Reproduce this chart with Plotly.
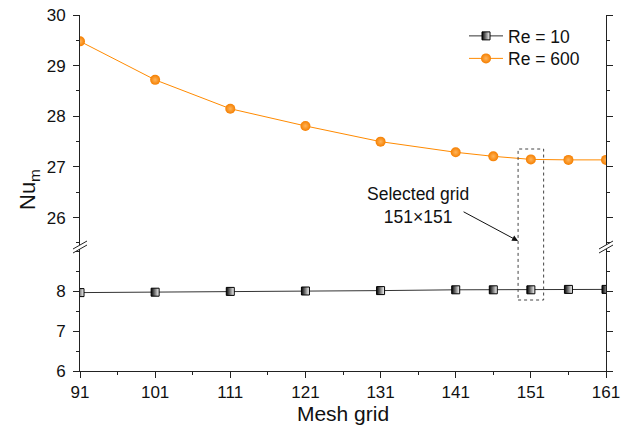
import plotly.graph_objects as go

mesh = [91, 101, 111, 121, 131, 141, 146, 151, 156, 161]
nu_re10 = [7.96, 7.97, 7.99, 8.00, 8.01, 8.03, 8.03, 8.03, 8.04, 8.04]
nu_re600 = [29.48, 28.72, 28.15, 27.81, 27.50, 27.29, 27.21, 27.15, 27.14, 27.14]
x_ticks = [91, 101, 111, 121, 131, 141, 151, 161]
y_low_ticks = [6, 7, 8]
y_up_ticks = [26, 27, 28, 29, 30]

W, H = 627, 428
L, R, T, B = 80, 21, 15, 57
PW, PH = W - L - R, H - T - B


def px(x):
    return (x - L) / PW


def py(y):
    return (H - B - y) / PH


FONT = "Liberation Sans, Arial, sans-serif"
AX = "#222"

fig = go.Figure()
fig.add_trace(go.Scatter(
    x=mesh, y=nu_re10, name="Re = 10", mode="lines+markers",
    xaxis="x", yaxis="y", legend="legend",
    line=dict(color="#333", width=1),
    marker=dict(symbol="square", size=8, color="#000",
                gradient=dict(type="horizontal", color="#fff"),
                line=dict(color="#000", width=1)),
))
fig.add_trace(go.Scatter(
    x=mesh, y=nu_re600, name="Re = 600", mode="lines+markers",
    xaxis="x", yaxis="y2", legend="legend2",
    line=dict(color="#FF8A00", width=1),
    marker=dict(symbol="circle", size=10, color="#F57F00",
                gradient=dict(type="radial", color="#FFB45A"),
                line=dict(width=0)),
))

axis_common = dict(showline=True, linecolor=AX, linewidth=1, ticks="outside",
                   tickcolor=AX, ticklen=6, tickwidth=1, showgrid=False,
                   zeroline=False, automargin=False,
                   tickfont=dict(family=FONT, size=17, color="#111"))

low_top = py(249)
up_bot = py(245)

legend_common = dict(xanchor="left", yanchor="middle", bgcolor="rgba(0,0,0,0)",
                     font=dict(family=FONT, size=17.5, color="#111"), itemwidth=34)

fig.update_layout(
    width=W, height=H, margin=dict(l=L, r=R, t=T, b=B, autoexpand=False),
    paper_bgcolor="white", plot_bgcolor="white",
    font=dict(family=FONT, color="#111"),
    xaxis=dict(domain=[0, 1], anchor="y", range=[91, 161], tickmode="array",
               tickvals=x_ticks, minor=dict(ticks="outside", ticklen=3, dtick=5, tick0=91, tickcolor=AX),
               title=dict(text="Mesh grid", font=dict(family=FONT, size=21, color="#111"), standoff=4),
               ticklabelstandoff=0,
               **axis_common),
    xaxis2=dict(type="linear", overlaying="x", anchor="y2", side="top", range=[91, 161],
                showline=True, linecolor=AX, linewidth=1, ticks="inside", ticklen=4,
                tickcolor=AX, tickwidth=1, tickmode="array", tickvals=x_ticks, showticklabels=False,
                minor=dict(ticks="inside", ticklen=2, dtick=5, tick0=91, tickcolor=AX),
                showgrid=False, zeroline=False, automargin=False),
    yaxis=dict(domain=[0, low_top], anchor="x", range=[6, 9.05], tickmode="array",
               tickvals=y_low_ticks, mirror="ticks", ticklabelstandoff=4,
               minor=dict(ticks="outside", ticklen=3, dtick=0.5, tick0=6, tickcolor=AX),
               **axis_common),
    yaxis2=dict(domain=[up_bot, 1], anchor="x", range=[25.46, 30], tickmode="array",
                tickvals=y_up_ticks, mirror="ticks", ticklabelstandoff=4,
                minor=dict(ticks="outside", ticklen=3, dtick=0.5, tick0=25, tickcolor=AX),
                **axis_common),
    legend=dict(x=px(464), y=py(36), **legend_common),
    legend2=dict(x=px(464), y=py(58.5), **legend_common),
    showlegend=True,
)

# axis break marks
shapes = []
for xc in (L, L + PW):
    for dy in (-2, 2):
        shapes.append(dict(type="line", xref="paper", yref="paper",
                           x0=px(xc - 7), y0=py(251 + dy), x1=px(xc + 7), y1=py(243 + dy),
                           line=dict(color=AX, width=1)))
# selected-grid dotted box
shapes.append(dict(type="rect", xref="x", yref="paper", x0=149.3, x1=152.7,
                   y0=py(300), y1=py(149), line=dict(color="#444", width=1, dash="dot")))
fig.update_layout(shapes=shapes)

fig.add_annotation(xref="paper", yref="paper", x=px(418), y=py(206), showarrow=False,
                   xanchor="center", yanchor="middle",
                   text="Selected grid<br>151×151", align="center",
                   font=dict(family=FONT, size=17.5, color="#111"))
fig.add_annotation(xref="x", yref="paper", x=149.3, y=py(241), ax=-56, ay=-30,
                   showarrow=True, arrowhead=2, arrowsize=1.2, arrowwidth=1,
                   arrowcolor="#111", text="")
fig.add_annotation(xref="paper", yref="paper", x=px(29), y=py(190), showarrow=False,
                   xanchor="center", yanchor="middle",
                   text="Nu<sub>m</sub>", textangle=-90,
                   font=dict(family=FONT, size=22, color="#111"))

fig.write_html("out.html")
